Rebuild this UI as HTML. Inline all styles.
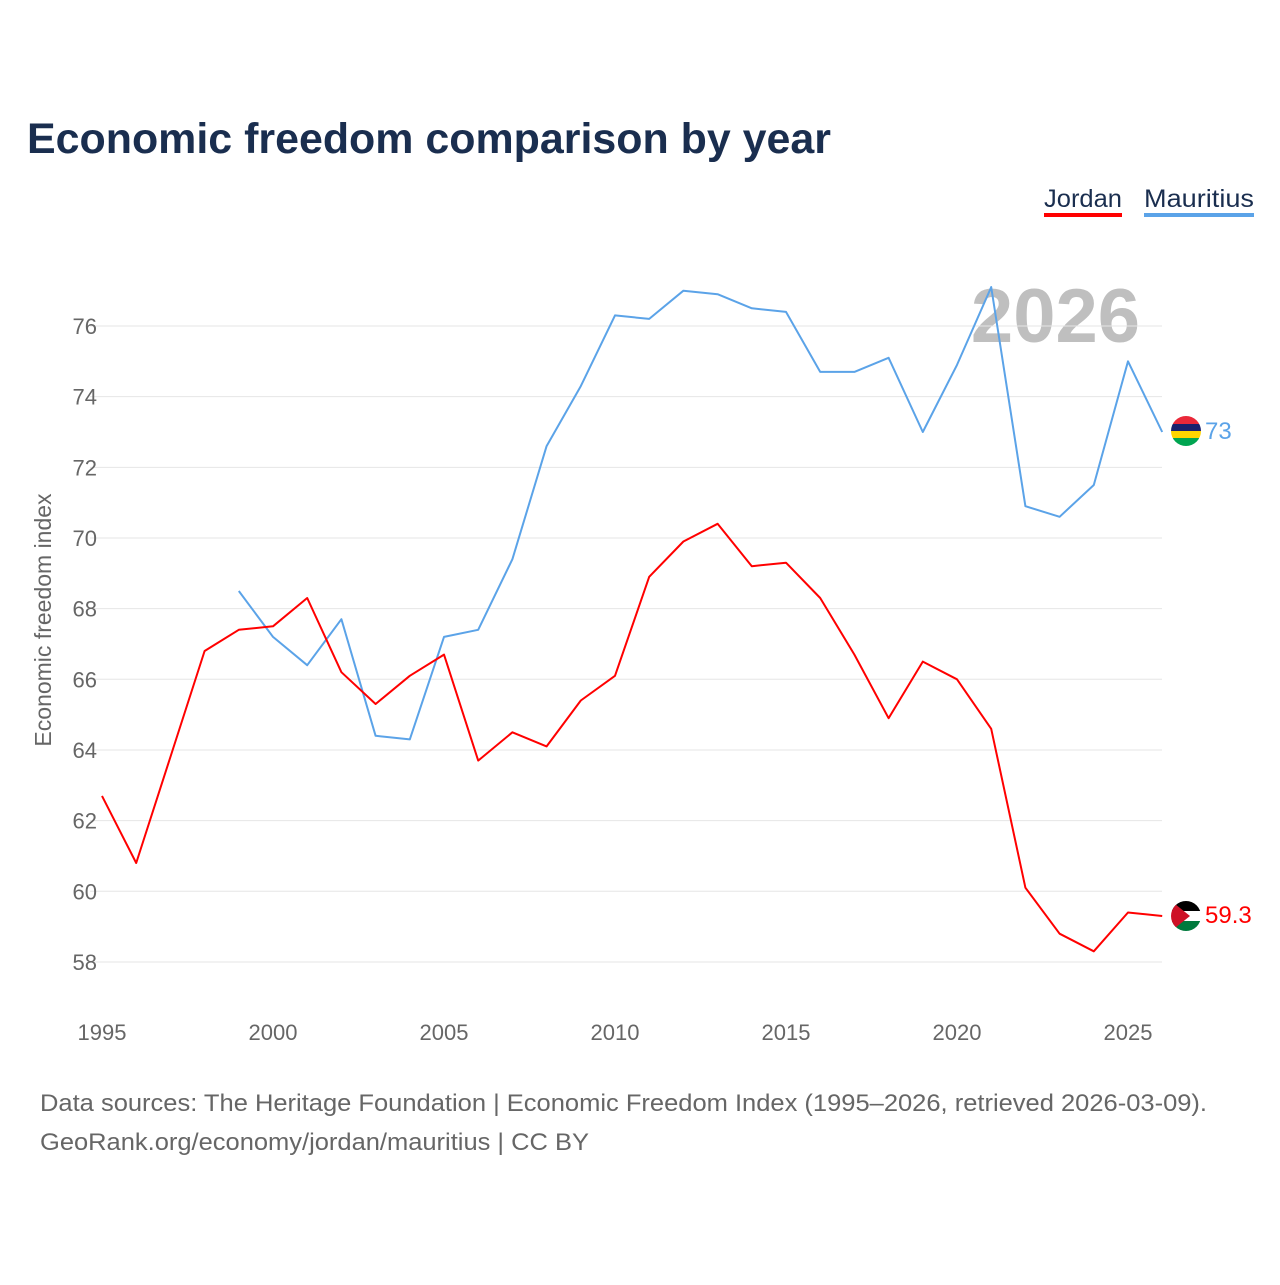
<!DOCTYPE html>
<html><head><meta charset="utf-8">
<style>
body{margin:0;background:#fff;font-family:"Liberation Sans",sans-serif;}
svg text{font-family:"Liberation Sans",sans-serif;}
</style></head>
<body>
<svg width="1280" height="1280" viewBox="0 0 1280 1280">
<text x="27" y="153" font-size="43" font-weight="bold" fill="#1a2e4f" textLength="804" lengthAdjust="spacingAndGlyphs">Economic freedom comparison by year</text>
<g>
<text x="1044" y="207" font-size="25" fill="#1a2e4f" textLength="78" lengthAdjust="spacingAndGlyphs">Jordan</text>
<rect x="1044" y="213" width="78" height="4" fill="#ff0000"/>
<text x="1144" y="207" font-size="25" fill="#1a2e4f" textLength="110" lengthAdjust="spacingAndGlyphs">Mauritius</text>
<rect x="1144" y="213" width="110" height="4" fill="#5ba3e8"/>
</g>
<text x="1140" y="342" font-size="76" font-weight="bold" fill="#bfbfbf" text-anchor="end">2026</text>
<g id="grid"></g>
<g id="xt"></g>
<text transform="translate(51,620) rotate(-90)" font-size="23" fill="#666" text-anchor="middle">Economic freedom index</text>
<g id="series"></g>
<g>
<clipPath id="cm"><circle cx="1186" cy="431" r="15"/></clipPath>
<g clip-path="url(#cm)"><rect x="1170" y="416" width="32" height="8" fill="#ea2839"/><rect x="1170" y="424" width="32" height="7" fill="#1a206d"/><rect x="1170" y="431" width="32" height="7" fill="#ffd500"/><rect x="1170" y="438" width="32" height="9" fill="#00a551"/></g>
</g>
<text x="1205" y="439" font-size="24" fill="#5ba3e8">73</text>
<g>
<clipPath id="cj"><circle cx="1186" cy="916" r="15"/></clipPath>
<g clip-path="url(#cj)"><rect x="1170" y="900" width="32" height="11" fill="#000"/><rect x="1170" y="911" width="32" height="10" fill="#fff"/><rect x="1170" y="921" width="32" height="11" fill="#007a3d"/><polygon points="1170,900 1190,916 1170,932" fill="#ce1126"/></g>
</g>
<text x="1205" y="923" font-size="24" fill="#ff0000">59.3</text>
<text x="40" y="1111" font-size="24" fill="#666" textLength="1167" lengthAdjust="spacingAndGlyphs">Data sources: The Heritage Foundation | Economic Freedom Index (1995–2026, retrieved 2026-03-09).</text>
<text x="40" y="1150" font-size="24" fill="#666" textLength="549" lengthAdjust="spacingAndGlyphs">GeoRank.org/economy/jordan/mauritius | CC BY</text>
</svg>
<script>
const years=[1995,1996,1997,1998,1999,2000,2001,2002,2003,2004,2005,2006,2007,2008,2009,2010,2011,2012,2013,2014,2015,2016,2017,2018,2019,2020,2021,2022,2023,2024,2025,2026];
const jordan=[62.7,60.8,63.8,66.8,67.4,67.5,68.3,66.2,65.3,66.1,66.7,63.7,64.5,64.1,65.4,66.1,68.9,69.9,70.4,69.2,69.3,68.3,66.7,64.9,66.5,66.0,64.6,60.1,58.8,58.3,59.4,59.3];
const mauritius=[null,null,null,null,68.5,67.2,66.4,67.7,64.4,64.3,67.2,67.4,69.4,72.6,74.3,76.3,76.2,77.0,76.9,76.5,76.4,74.7,74.7,75.1,73.0,74.9,77.1,70.9,70.6,71.5,75.0,73.0];
const yTicks=[58,60,62,64,66,68,70,72,74,76];
const xTicks=[1995,2000,2005,2010,2015,2020,2025];
const NS='http://www.w3.org/2000/svg';
const xs=y=>102+(y-1995)*34.2;
const ys=v=>326+(76-v)*35.33;
function mk(t,a,p){const e=document.createElementNS(NS,t);for(const k in a)e.setAttribute(k,a[k]);p.appendChild(e);return e;}
const grid=document.getElementById('grid');
yTicks.forEach(v=>{
 const l=mk('line',{x1:90,x2:1162,y1:ys(v),y2:ys(v),stroke:'#e6e6e6','stroke-width':1},grid);
 
 
 const t=mk('text',{x:97,y:ys(v)+8,'font-size':22,fill:'#666','text-anchor':'end'},grid);
 t.textContent=v;
 
 
});
const xt=document.getElementById('xt');
xTicks.forEach(y=>{
 const t=mk('text',{x:xs(y),y:1040,'font-size':22,fill:'#666','text-anchor':'middle'},xt);
 t.textContent=y;
 
 
});
const sg=document.getElementById('series');
function line(vals,color,name){
 let d='';
 vals.forEach((v,i)=>{if(v==null)return;d+=(d?'L':'M')+xs(years[i]).toFixed(1)+','+ys(v).toFixed(1);});
 const p=mk('path',{d:d,fill:'none',stroke:color,'stroke-width':2,'stroke-linejoin':'round'},sg);
 
 
}
line(mauritius,'#5ba3e8','mauritius-line');
line(jordan,'#ff0000','jordan-line');
</script>
</body></html>
